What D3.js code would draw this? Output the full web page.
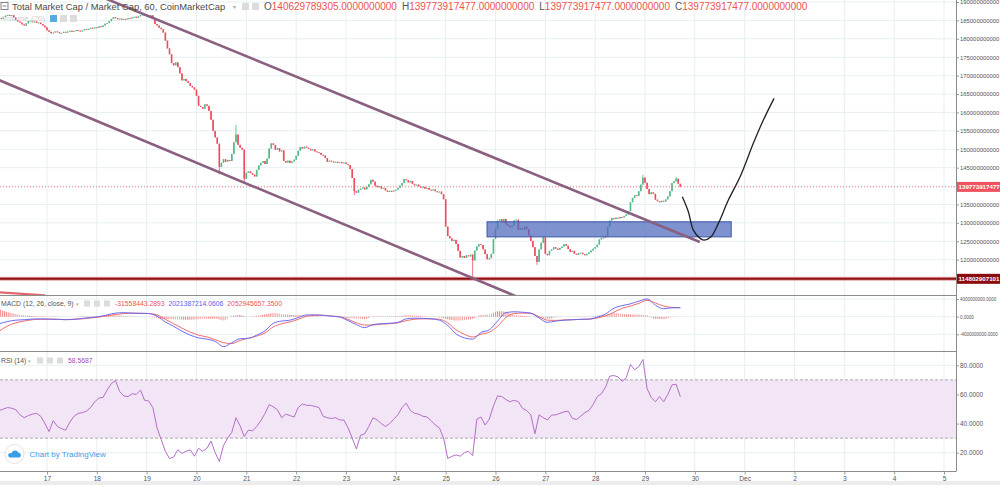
<!DOCTYPE html>
<html>
<head>
<meta charset="utf-8">
<script src="https://cdn.jsdelivr.net/npm/d3@7"></script>
<style>
  html, body { margin: 0; padding: 0; background: #fff; overflow: hidden; }
  svg { display: block; font-family: "Liberation Sans", Arial, sans-serif; }
</style>
</head>
<body>
<svg id="chart" width="1000" height="485"></svg>
<script>
// Hourly closes, total market cap in billions USD, from Nov 16 00:00 UTC
const closesNov16 = [185.2,185.6,185.4,185.9,186.3,186.5,186.2,186.4,185.8,185.1,184.7,184.4,183.9,183.6,184.2,184.8,184.9,184.5,184.7,184.3,184.4,184.0,183.6,183.1];
const closesNov17 = [182.3,181.9,181.5,181.7,182.0,181.8,181.5,181.6,181.9,181.7,182.0,182.2,181.9,182.1,182.4,182.2,182.0,182.3,182.6,182.4,182.7,183.0,182.8,183.1];
const closesNov18 = [183.0,183.4,183.2,183.6,184.1,184.3,184.8,185.4,185.9,185.6,185.3,185.5,185.2,185.4,185.3,185.6,185.5,185.8,186.0,185.7,186.1,186.4,186.6,186.2];
const closesNov19 = [186.3,185.9,186.4,185.6,184.0,183.6,183.0,182.6,181.7,179.5,177.4,175.8,173.4,172.8,173.6,172.3,170.6,168.7,169.1,168.5,168.0,167.2,166.8,166.2];
const closesNov20 = [164.5,161.8,161.5,161.0,162.2,161.8,160.4,158.0,155.0,153.2,151.5,145.2,146.3,147.3,146.6,147.1,146.8,148.7,151.9,154.0,151.2,150.4,149.9,142.0];
const closesNov21 = [143.6,144.0,143.5,143.1,142.6,144.4,145.6,146.3,146.8,146.0,147.5,150.2,151.6,151.2,149.9,150.3,149.4,149.7,146.8,146.4,146.9,146.3,146.7,147.2];
const closesNov22 = [148.2,149.6,150.6,150.2,150.7,150.4,150.1,149.7,150.0,149.4,149.2,149.0,148.5,148.3,147.6,146.6,146.9,146.7,146.4,146.6,146.3,146.5,146.2,146.4];
const closesNov23 = [146.0,145.7,144.6,142.2,138.6,138.2,139.0,139.3,139.6,139.1,139.8,140.5,141.7,141.2,140.1,139.7,140.0,139.3,139.5,138.8,138.4,138.7,138.5,138.8];
const closesNov24 = [139.0,139.5,140.1,140.8,141.9,141.6,141.0,141.4,140.6,140.2,140.4,139.9,139.6,139.8,139.3,139.5,139.0,138.8,139.1,138.6,138.3,138.5,137.8,136.4];
const closesNov25 = [129.0,126.4,125.8,125.1,125.4,124.3,122.4,120.6,121.0,120.5,121.2,120.9,121.4,119.8,122.5,123.6,124.2,124.0,122.8,121.5,120.1,120.4,121.6,125.6];
const closesNov26 = [128.4,130.6,131.0,130.3,131.1,129.6,129.2,128.8,129.3,130.7,130.9,128.1,128.6,128.2,129.0,128.3,126.6,125.1,123.4,121.0,119.4,122.8,124.6,126.1];
const closesNov27 = [121.6,121.2,122.4,122.8,123.4,123.0,122.7,123.2,123.6,124.2,123.8,122.9,122.1,122.4,121.6,121.3,121.8,121.9,121.5,121.2,121.6,122.0,122.5,123.0];
const closesNov28 = [123.4,124.1,125.5,125.9,126.0,126.4,128.9,130.6,131.3,131.0,131.4,131.2,131.6,131.5,131.9,132.3,133.2,135.6,136.8,137.5,137.3,138.6,140.4,142.3];
const closesNov29 = [140.9,139.2,137.8,138.3,137.9,136.3,135.9,135.6,136.0,135.8,136.4,137.2,138.6,140.8,141.3,142.0,140.63,139.77];
const firstOpen = 185.0;
// notable wicks: [hour index, high, low]
const wicks = [[107, null, 143.2], [115, 156.6, null], [119, null, 141.0], [172, null, 137.5],
               [229, null, 114.8], [260, null, 118.6], [311, 143.1, null], [327, 142.5, null]];

// MACD (12,26,close,9), billions, every 4 hours from Nov 16 01:00
const macdLine = [-1.6,-1.1,-0.8,-0.7,-0.55,-0.5,-0.55,-0.6,-0.7,-0.6,
  -0.4,-0.2,0.0,0.4,0.8,0.9,0.8,0.75,0.7,0.1,
  -1.2,-2.2,-3.3,-4.2,-4.8,-5.1,-5.6,-6.8,-5.9,-5.0,
  -4.9,-4.2,-3.2,-1.5,-1.0,-0.8,-0.2,0.38,0.4,0.3,
  0.1,-0.1,-0.9,-1.8,-2.5,-1.8,-1.6,-1.5,-1.3,-0.5,
  -0.35,-0.4,-0.5,-0.8,-2.0,-3.9,-4.8,-5.1,-3.6,-3.0,
  -1.0,0.9,1.1,1.0,0.8,-0.3,-1.3,-1.0,-0.8,-0.7,
  -0.6,-0.55,-0.1,0.6,1.9,2.5,2.9,3.5,4.0,2.6,
  1.8,2.0,2.02];
const signalLine = [-3.3,-2.1,-1.4,-1.0,-0.7,-0.6,-0.6,-0.6,-0.65,-0.6,
  -0.5,-0.3,-0.1,0.2,0.5,0.7,0.78,0.76,0.72,0.4,
  -0.6,-1.6,-2.6,-3.5,-4.2,-4.6,-5.2,-5.9,-6.1,-5.4,
  -4.9,-4.4,-3.7,-2.3,-1.6,-1.2,-0.6,0.1,0.3,0.3,
  0.15,0.0,-0.6,-1.4,-1.9,-1.9,-1.7,-1.6,-1.4,-0.9,
  -0.6,-0.5,-0.5,-0.6,-1.4,-3.0,-4.0,-4.6,-4.0,-3.5,
  -2.2,-0.2,0.7,0.8,0.75,0.0,-0.8,-0.85,-0.75,-0.7,
  -0.62,-0.58,-0.3,0.2,1.0,1.9,2.4,3.0,3.7,3.1,
  2.4,2.1,2.05];

// RSI (14), every 2 hours from Nov 16 01:00
const rsiValues = [49,50,51,50.5,49.5,46,44,45.5,46.5,47,
  45,40,34.5,42,38,36.5,35.5,41,45,47,
  47.5,48.5,51,55,57.5,58,63,67.5,69.5,62,
  59,58.5,60.5,60,63,56,55.5,51,37,29,
  21,16,17,22,19.5,21,22,17.6,23,21,
  23,28,20,14,25,30,34,44,38.5,31,
  35.5,35,38,42,47,53,51.5,49.5,44,46.5,
  45.5,44.5,51,53.5,52.5,52.5,51.8,51,45,44,
  43.5,44,42.5,42.4,37,30,22.5,32,33,38,
  44,42.5,40,38,40,43,46,51,54,49,
  47,46.5,45,44.5,42,39,37,30,16,17.5,
  18.5,17.6,20,21,18,43,44.5,39,43,52,
  59,58.5,56.5,55,56,55,50.5,49,46,33,
  46,44,42.5,45.8,46,47,48,48.5,43.6,42.8,
  45,47.5,49,53,58.5,60.5,65,72.5,73,72,
  69,71.5,80.5,77,79,84,64,58,55,58.5,
  55,60,66.5,67,58.57];

// drawings: [day of November (fractional), value in billions]
const upperChannel = [[16.0, 203.0], [30.10, 124.8]];
const lowerChannel = [[16.0, 169.0], [26.6, 109.0]];
const redStub = [[16.0, 111.2], [16.96, 110.3]];
const supportLevel = 114.802907101;
const lastPrice = 139.773917477;
const zoneDays = [25.83, 30.73];
const zoneValues = [126.2, 130.3];
const projection = [[29.749, 137.09], [29.870, 133.02], [29.970, 128.04], [30.105, 125.79], [30.185, 125.33],
  [30.325, 126.22], [30.472, 129.86], [30.673, 136.20], [30.908, 142.53], [31.174, 151.60],
  [31.375, 157.93], [31.590, 163.83]];

// axes
const mainTicks = [115, 120, 125, 130, 135, 140, 145, 150, 155, 160, 165, 170, 175, 180, 185, 190];
const macdTicks = [-4, 0, 4];
const macdTickLabels = ['-4000000000.0000', '0.0000', '4000000000.0000'];
const rsiTicks = [20, 40, 60, 80];
const dayTicks = [17, 18, 19, 20, 21, 22, 23, 24, 25, 26, 27, 28, 29, 30, 31, 32, 33, 34, 35];
const dayTickLabels = ['17', '18', '19', '20', '21', '22', '23', '24', '25', '26', '27', '28', '29', '30', 'Dec', '2', '3', '4', '5'];

const titleText = 'Total Market Cap / Market Cap, 60, CoinMarketCap';
const ohlc = [['O', '140629789305.0000000000'], ['H', '139773917477.0000000000'],
              ['L', '139773917477.0000000000'], ['C', '139773917477.0000000000']];
const macdLegend = [['-31558443.2893', '#ef5350'], ['2021387214.0606', '#5b5bea'], ['2052945657.3500', '#ef5350']];
const rsiLegend = '58.5687';

(function () {
  const svg = d3.select('#chart');
  const axisX = 956;
  const dayToDate = d => new Date(Date.UTC(2017, 10, 1) + (d - 1) * 864e5);

  const x = d3.scaleUtc().domain([dayToDate(17), dayToDate(35)]).range([47, 944]);
  const yMain = d3.scaleLinear().domain([120, 190]).range([259.7, 2]);
  const yMacd = d3.scaleLinear().domain([-4, 4]).range([334.3, 299]);
  const yRsi = d3.scaleLinear().domain([20, 80]).range([452.7, 365.3]);

  const panels = { main: [0, 295], macd: [296, 351], rsi: [352, 471] };

  svg.append('rect').attr('width', 1000).attr('height', 485).attr('fill', '#fff');

  const defs = svg.append('defs');
  Object.entries(panels).forEach(([k, [t, b]]) => {
    defs.append('clipPath').attr('id', 'clip-' + k)
      .append('rect').attr('x', 0).attr('y', t).attr('width', axisX).attr('height', b - t);
  });
  defs.append('pattern').attr('id', 'histStripes')
    .attr('patternUnits', 'userSpaceOnUse').attr('width', 2.08).attr('height', 4)
    .append('rect').attr('width', 1).attr('height', 4).attr('fill', '#f08a8a');

  // grid
  const grid = svg.append('g').attr('stroke', '#e6eff1').attr('stroke-width', 1);
  dayTicks.forEach(d => {
    grid.append('line').attr('x1', x(dayToDate(d))).attr('x2', x(dayToDate(d)))
      .attr('y1', 0).attr('y2', 471);
  });
  mainTicks.filter(v => v >= 120).forEach(v => grid.append('line').attr('x1', 0).attr('x2', axisX).attr('y1', yMain(v)).attr('y2', yMain(v)));
  macdTicks.forEach(v => grid.append('line').attr('x1', 0).attr('x2', axisX).attr('y1', yMacd(v)).attr('y2', yMacd(v)));
  rsiTicks.forEach(v => grid.append('line').attr('x1', 0).attr('x2', axisX).attr('y1', yRsi(v)).attr('y2', yRsi(v)));

  // ---- main panel ----
  const main = svg.append('g').attr('clip-path', 'url(#clip-main)');
  const closes = [].concat(closesNov16, closesNov17, closesNov18, closesNov19, closesNov20, closesNov21,
    closesNov22, closesNov23, closesNov24, closesNov25, closesNov26, closesNov27, closesNov28, closesNov29);
  const candles = closes.map((c, i) => {
    const o = i ? closes[i - 1] : firstOpen;
    return { t: dayToDate(16 + i / 24), o, c, h: Math.max(o, c), l: Math.min(o, c) };
  });
  wicks.forEach(([i, h, l]) => {
    if (h != null) candles[i].h = h;
    if (l != null) candles[i].l = l;
  });

  const up = '#53b987', down = '#eb4d5c';
  const cg = main.append('g');
  cg.selectAll('line').data(candles).join('line')
    .attr('x1', d => x(d.t)).attr('x2', d => x(d.t))
    .attr('y1', d => yMain(d.h)).attr('y2', d => yMain(d.l))
    .attr('stroke', d => d.c >= d.o ? up : down).attr('stroke-width', 0.8);
  cg.selectAll('rect').data(candles).join('rect')
    .attr('x', d => x(d.t) - 0.8).attr('width', 1.6)
    .attr('y', d => yMain(Math.max(d.o, d.c)))
    .attr('height', d => Math.max(0.9, Math.abs(yMain(d.o) - yMain(d.c))))
    .attr('fill', d => d.c >= d.o ? up : down);

  const pt = d => [x(dayToDate(d[0])), yMain(d[1])];

  // support line
  main.append('line').attr('x1', 0).attr('x2', axisX)
    .attr('y1', yMain(supportLevel)).attr('y2', yMain(supportLevel))
    .attr('stroke', '#e9a3a3').attr('stroke-width', 4);
  main.append('line').attr('x1', 0).attr('x2', axisX)
    .attr('y1', yMain(supportLevel)).attr('y2', yMain(supportLevel))
    .attr('stroke', '#8e0f12').attr('stroke-width', 2);

  // last price dotted line
  main.append('line').attr('x1', 0).attr('x2', axisX)
    .attr('y1', yMain(lastPrice)).attr('y2', yMain(lastPrice))
    .attr('stroke', '#ef5a66').attr('stroke-width', 0.8).attr('stroke-dasharray', '1,2');

  // zone
  main.append('rect')
    .attr('x', x(dayToDate(zoneDays[0])))
    .attr('width', x(dayToDate(zoneDays[1])) - x(dayToDate(zoneDays[0])))
    .attr('y', yMain(zoneValues[1]))
    .attr('height', yMain(zoneValues[0]) - yMain(zoneValues[1]))
    .attr('fill', 'rgba(78,104,190,0.72)').attr('stroke', '#3b57a8').attr('stroke-width', 1);

  // channel lines
  const line = d3.line().x(d => pt(d)[0]).y(d => pt(d)[1]);
  [upperChannel, lowerChannel].forEach(l => {
    main.append('path').attr('d', line(l)).attr('fill', 'none')
      .attr('stroke', '#8a5f80').attr('stroke-width', 2.6);
  });
  main.append('path').attr('d', line(redStub)).attr('fill', 'none')
    .attr('stroke', '#e2676c').attr('stroke-width', 2.2);

  // projection curve
  main.append('path').attr('d', line.curve(d3.curveCatmullRom)(projection)).attr('fill', 'none')
    .attr('stroke', '#1f1f24').attr('stroke-width', 1.3);

  // ---- MACD panel ----
  const macd = svg.append('g').attr('clip-path', 'url(#clip-macd)');
  const macdData = macdLine.map((m, i) => ({ t: dayToDate(16 + (1 + 4 * i) / 24), m, s: signalLine[i], h: m - signalLine[i] }));
  macd.append('path').datum(macdData)
    .attr('d', d3.area().x(d => x(d.t)).y0(yMacd(0)).y1(d => yMacd(d.h)).curve(d3.curveMonotoneX))
    .attr('fill', 'url(#histStripes)');
  macd.append('path').datum(macdData)
    .attr('d', d3.line().x(d => x(d.t)).y(d => yMacd(d.s)).curve(d3.curveMonotoneX))
    .attr('fill', 'none').attr('stroke', '#f06b6b').attr('stroke-width', 1);
  macd.append('path').datum(macdData)
    .attr('d', d3.line().x(d => x(d.t)).y(d => yMacd(d.m)).curve(d3.curveMonotoneX))
    .attr('fill', 'none').attr('stroke', '#6a6af0').attr('stroke-width', 1);

  // ---- RSI panel ----
  const rsi = svg.append('g').attr('clip-path', 'url(#clip-rsi)');
  rsi.append('rect').attr('x', 0).attr('width', axisX)
    .attr('y', yRsi(70)).attr('height', yRsi(30) - yRsi(70)).attr('fill', '#f2e5f5');
  [70, 30].forEach(v => rsi.append('line').attr('x1', 0).attr('x2', axisX)
    .attr('y1', yRsi(v)).attr('y2', yRsi(v))
    .attr('stroke', '#aaa').attr('stroke-width', 1).attr('stroke-dasharray', '3,2'));
  const rsiData = rsiValues.map((r, i) => ({ t: dayToDate(16 + (1 + 2 * i) / 24), r }));
  rsi.append('path').datum(rsiData)
    .attr('d', d3.line().x(d => x(d.t)).y(d => yRsi(d.r)))
    .attr('fill', 'none').attr('stroke', '#b36fc6').attr('stroke-width', 1);

  // ---- frame ----
  const frame = svg.append('g').attr('stroke', '#8c8c8c').attr('stroke-width', 1);
  frame.append('line').attr('x1', 0).attr('x2', axisX).attr('y1', 295.5).attr('y2', 295.5);
  frame.append('line').attr('x1', 0).attr('x2', axisX).attr('y1', 351.5).attr('y2', 351.5);
  frame.append('line').attr('x1', 0).attr('x2', axisX).attr('y1', 471.5).attr('y2', 471.5);
  frame.append('line').attr('x1', axisX + 0.5).attr('x2', axisX + 0.5).attr('y1', 0).attr('y2', 471.5);

  const styleAxis = size => g => {
    g.select('.domain').remove();
    g.selectAll('.tick line').attr('stroke', '#999');
    g.selectAll('.tick text').attr('fill', '#555').attr('font-size', size + 'px')
      .attr('font-family', '"Liberation Sans", Arial, sans-serif');
  };
  // price tags hide the ticks they sit on
  const tagged = [lastPrice, supportLevel];
  const labelTicks = mainTicks.filter(v => tagged.every(p => Math.abs(yMain(v) - yMain(p)) > 7));
  svg.append('g').attr('transform', `translate(${axisX},0)`)
    .call(d3.axisRight(yMain).tickValues(labelTicks).tickSize(3).tickPadding(1)
      .tickFormat(v => d3.format('d')(v * 1e9)))
    .call(styleAxis(5.9));
  svg.append('g').attr('transform', `translate(${axisX},0)`)
    .call(d3.axisRight(yMacd).tickValues(macdTicks).tickSize(3).tickPadding(1)
      .tickFormat((v, i) => macdTickLabels[i]))
    .call(styleAxis(4.5));
  svg.append('g').attr('transform', `translate(${axisX},0)`)
    .call(d3.axisRight(yRsi).tickValues(rsiTicks).tickSize(3).tickPadding(1)
      .tickFormat(v => v.toFixed(4)))
    .call(styleAxis(6.4));
  svg.append('g').attr('transform', 'translate(0,471.5)')
    .call(d3.axisBottom(x).tickValues(dayTicks.map(dayToDate)).tickSize(3).tickPadding(2)
      .tickFormat((d, i) => dayTickLabels[i]))
    .call(styleAxis(6.6));

  // price labels on the axis
  const priceTag = (v, fill, label) => {
    const yy = yMain(v);
    svg.append('rect').attr('x', axisX + 1).attr('y', yy - 5).attr('width', 1000 - axisX).attr('height', 10).attr('fill', fill);
    svg.append('text').attr('x', axisX + 2.5).attr('y', yy + 2.3).attr('fill', '#fff')
      .attr('font-size', '6.2px').attr('font-weight', 'bold').text(label);
  };
  priceTag(lastPrice, '#f0525f', '139773917477');
  priceTag(supportLevel, '#8b0c0c', '114802907101');

  // bottom strip
  svg.append('rect').attr('x', 0).attr('y', 481).attr('width', 1000).attr('height', 4).attr('fill', '#ececec');

  // ---- legends ----
  const icons = (g, xs, y, s, first) => xs.forEach((xx, i) => {
    g.append('rect').attr('x', xx).attr('y', y).attr('width', s).attr('height', s)
      .attr('fill', i === 0 && first ? first : '#dcdcdc').attr('rx', 0.5);
  });
  const lg = svg.append('g');
  lg.append('rect').attr('x', 1).attr('y', 2.5).attr('width', 7).attr('height', 7)
    .attr('fill', 'none').attr('stroke', '#666').attr('stroke-width', 0.8);
  lg.append('line').attr('x1', 2.5).attr('x2', 6.5).attr('y1', 6).attr('y2', 6).attr('stroke', '#666').attr('stroke-width', 0.8);
  lg.append('text').attr('x', 12).attr('y', 10).attr('font-size', '9.4px').attr('fill', '#4a4a4a').text(titleText);
  lg.append('text').attr('x', 233).attr('y', 9).attr('font-size', '6px').attr('fill', '#aaa').text('▾');
  icons(lg, [242, 252], 3, 7);
  const oh = lg.append('text').attr('x', 264).attr('y', 10).attr('font-size', '10px');
  ohlc.forEach(([k, v], i) => {
    oh.append('tspan').attr('fill', '#555').attr('dx', i ? 5 : 0).text(k);
    oh.append('tspan').attr('fill', '#ef5350').text(v);
  });
  lg.append('text').attr('x', 2).attr('y', 21).attr('font-size', '8px').attr('fill', '#d2d2d2').text('Volume (20)');
  icons(lg, [50, 60, 70], 15, 7, '#5aa9df');

  const ml = svg.append('g');
  ml.append('text').attr('x', 1).attr('y', 306).attr('font-size', '6.8px').attr('fill', '#555').text('MACD (12, 26, close, 9)');
  ml.append('text').attr('x', 76).attr('y', 305.5).attr('font-size', '5px').attr('fill', '#aaa').text('▾');
  icons(ml, [84, 94, 104], 300.5, 6);
  const mt = ml.append('text').attr('x', 115).attr('y', 306).attr('font-size', '6.8px');
  macdLegend.forEach(([v, c], i) => mt.append('tspan').attr('fill', c).attr('dx', i ? 4 : 0).text(v));

  const rl = svg.append('g');
  rl.append('text').attr('x', 1).attr('y', 363).attr('font-size', '6.8px').attr('fill', '#555').text('RSI (14)');
  rl.append('text').attr('x', 28).attr('y', 362.5).attr('font-size', '5px').attr('fill', '#aaa').text('▾');
  icons(rl, [37, 47, 57], 357.5, 6);
  rl.append('text').attr('x', 68).attr('y', 363).attr('font-size', '6.8px').attr('fill', '#9c4fb5').text(rsiLegend);

  // TradingView badge
  const tv = svg.append('g');
  tv.append('circle').attr('cx', 14.5).attr('cy', 454).attr('r', 9.5).attr('fill', '#fff').attr('stroke', '#e4e4e4');
  tv.append('path').attr('d', 'M9.5,457.5 h10 a2.6,2.6 0 0 0 -1.2,-4.9 a3.6,3.6 0 0 0 -6.8,0.6 a2.2,2.2 0 0 0 -2,4.3 z')
    .attr('fill', '#3a9ee6');
  tv.append('text').attr('x', 29.5).attr('y', 457).attr('font-size', '8px').attr('fill', '#3a9ee6').text('Chart by TradingView');
})();
</script>
</body>
</html>
